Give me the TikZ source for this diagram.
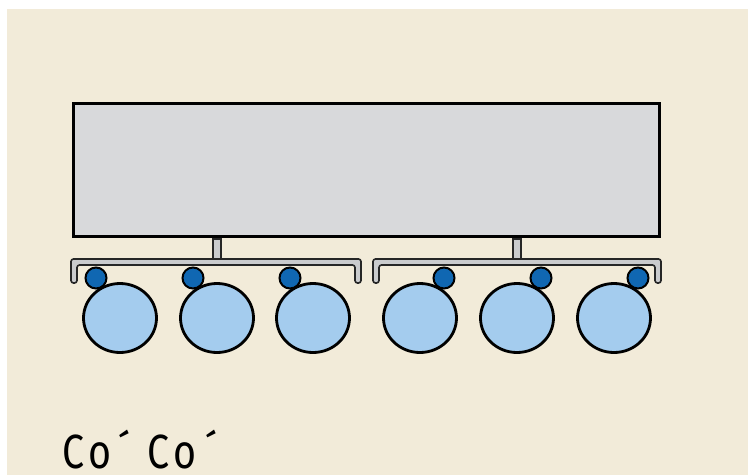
\documentclass[tikz,border=0pt]{standalone}
\usepackage{fontspec}
\setmainfont{Fira Sans}
\newfontfamily\labelfont{Fira Sans}[FakeStretch=0.82]
\usepackage{xcolor}
\usepackage{tikz}
\usetikzlibrary{shapes.geometric}
\definecolor{paper}{HTML}{F2EBD9}
\definecolor{boxgray}{HTML}{D8D9DB}
\definecolor{railgray}{HTML}{CACBCD}
\definecolor{wheelblue}{HTML}{A4CCEE}
\definecolor{pinblue}{HTML}{1067B2}

\begin{document}
\begin{tikzpicture}[x=1pt, y=-1pt,
  wheel/.style={ellipse, draw, line width=2.8pt, fill=wheelblue, minimum width=73pt, minimum height=69pt, inner sep=0},
  pin/.style={circle, draw, line width=2pt, fill=pinblue, minimum size=21pt, inner sep=0},
  rail/.style={draw=black!85, line width=1.6pt, fill=railgray, rounded corners=2.5pt}]
\fill[white] (0,0) rectangle (748,475);
\fill[color=paper] (7,9) rectangle (748,475);

\node(frame)[draw, line width=3.5pt, fill=boxgray, minimum width=586pt, minimum height=133pt, inner sep=0] at (366.5,170) {};

\draw[rail, rounded corners=0pt] (213,239) rectangle (221,262);
\draw[rail, rounded corners=0pt] (513,239) rectangle (521,262);

\draw[rail] (71,283) -- (71,259) -- (361,259) -- (361,283) -- (355,283) -- (355,265) -- (77,265) -- (77,283) -- cycle;
\draw[rail] (373,283) -- (373,259) -- (661,259) -- (661,283) -- (655,283) -- (655,265) -- (379,265) -- (379,283) -- cycle;

\node(w1)[wheel] at (120,318) {};
\node(w2)[wheel] at (217,318) {};
\node(w3)[wheel] at (313,318) {};
\node(w4)[wheel] at (420,318) {};
\node(w5)[wheel] at (517,318) {};
\node(w6)[wheel] at (614,318) {};

\node(p1)[pin] at (96,278) {};
\node(p2)[pin] at (193,278) {};
\node(p3)[pin] at (290,278) {};
\node(p4)[pin] at (444,278) {};
\node(p5)[pin] at (541,278) {};
\node(p6)[pin] at (638,278) {};

\node(label)[anchor=base west, inner sep=0, font=\labelfont\fontsize{48}{52}\selectfont] at (62,468) {C\kern4pt o\kern7pt´\kern17pt C\kern4pt o\kern9pt´};
\end{tikzpicture}
\end{document}
